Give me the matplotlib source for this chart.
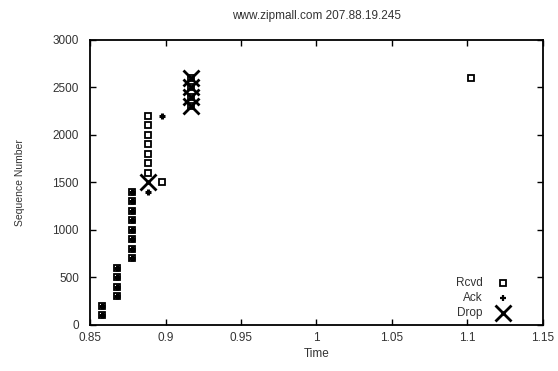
import matplotlib
matplotlib.use('Agg')
import matplotlib.pyplot as plt

plt.rcParams['font.family'] = ['Liberation Sans', 'DejaVu Sans']

# Rcvd packets (time, sequence number)
rcvd_t = [0.858, 0.858,
          0.868, 0.868, 0.868, 0.868,
          0.878, 0.878, 0.878, 0.878, 0.878, 0.878, 0.878, 0.878,
          0.8886, 0.8886, 0.8886, 0.8886, 0.8886, 0.8886, 0.8886,
          0.8975,
          0.917, 0.917, 0.917, 0.917,
          1.1023]
rcvd_s = [100, 200,
          300, 400, 500, 600,
          700, 800, 900, 1000, 1100, 1200, 1300, 1400,
          1600, 1700, 1800, 1900, 2000, 2100, 2200,
          1500,
          2300, 2400, 2500, 2600,
          2600]

# Acks
ack_t = [0.858, 0.858, 0.868, 0.868, 0.868, 0.868,
         0.878, 0.878, 0.878, 0.878, 0.878, 0.878, 0.878, 0.878,
         0.8886, 0.8975]
ack_s = [100, 200, 300, 400, 500, 600,
         700, 800, 900, 1000, 1100, 1200, 1300, 1400,
         1400, 2200]

# Drops
drop_t = [0.8886, 0.917, 0.917, 0.917, 0.917]
drop_s = [1500, 2300, 2400, 2500, 2600]

fig = plt.figure(figsize=(5.58, 3.71), dpi=100)
ax = fig.add_axes([0.1613, 0.124, 0.8118, 0.7695])

ax.plot(rcvd_t, rcvd_s, linestyle='none', marker='s', markersize=4.3,
        markerfacecolor='none', markeredgecolor='black', markeredgewidth=1.3)
ax.plot(ack_t, ack_s, linestyle='none', marker='+', markersize=4,
        color='black', markeredgewidth=2.2)
ax.plot(drop_t, drop_s, linestyle='none', marker='x', markersize=12,
        color='black', markeredgewidth=2)

ax.set_xlim(0.85, 1.15)
ax.set_ylim(0, 3000)
ax.set_xticks([0.85, 0.9, 0.95, 1, 1.05, 1.1, 1.15])
ax.set_xticklabels(['0.85', '0.9', '0.95', '1', '1.05', '1.1', '1.15'])
ax.set_yticks(range(0, 3001, 500))

ax.tick_params(direction='in', top=True, right=True, length=4, width=1,
               labelsize=8.5, colors='black', labelcolor='#333333')
ax.tick_params(axis='y', pad=8)
ax.tick_params(axis='x', pad=5)
for sp in ax.spines.values():
    sp.set_linewidth(1.3)

ax.set_title('www.zipmall.com 207.88.19.245', fontsize=8.5, color='#333333', pad=15)
ax.set_xlabel('Time', fontsize=8.5, color='#333333', labelpad=3)
ax.set_ylabel('Sequence Number', fontsize=7.5, color='#333333', labelpad=20)

# legend drawn in gnuplot style, text right aligned, sample to the right
leg_labels = ['Rcvd', 'Ack', 'Drop']
leg_y = [0.148, 0.096, 0.043]
leg_style = [dict(marker='s', markersize=4.3, markerfacecolor='none',
                  markeredgecolor='black', markeredgewidth=1.3),
             dict(marker='+', markersize=5, color='black', markeredgewidth=1.6),
             dict(marker='x', markersize=12, color='black', markeredgewidth=2)]
for lab, yy, st in zip(leg_labels, leg_y, leg_style):
    ax.text(0.866, yy, lab, transform=ax.transAxes, ha='right', va='center',
            fontsize=8.5, color='#333333')
    ax.plot([0.911], [yy], transform=ax.transAxes, linestyle='none',
            clip_on=False, **st)

fig.savefig('out.png', dpi=100)
